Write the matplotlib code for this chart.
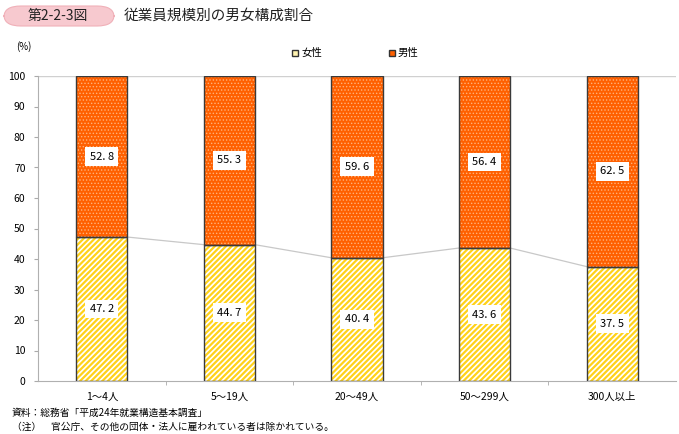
import numpy as np
import matplotlib.pyplot as plt
from matplotlib.patches import FancyBboxPatch, Rectangle

plt.rcParams['font.family'] = ['Noto Sans CJK JP', 'DejaVu Sans']

categories = ['1～4人', '5～19人', '20～49人', '50～299人', '300人以上']
female = [47.2, 44.7, 40.4, 43.6, 37.5]
male = [52.8, 55.3, 59.6, 56.4, 62.5]

fig = plt.figure(figsize=(6.79, 4.34), dpi=100)
ax = fig.add_axes([38 / 679, 1 - 381 / 434, 638 / 679, 305 / 434])

x = np.arange(len(categories))
w = 0.4

# female: yellow stripes, then dark outline
with plt.rc_context({'hatch.linewidth': 1.6}):
    ax.bar(x, female, w, color='white', edgecolor='#FFD21A', hatch='//////', linewidth=0, zorder=2)
ax.bar(x, female, w, fill=False, edgecolor='#3a3a3a', linewidth=1.0, zorder=3)
# male: orange with light dots
with plt.rc_context({'hatch.linewidth': 0.6}):
    ax.bar(x, male, w, bottom=female, color='#FF6000', edgecolor='#FFB27A', hatch='.....', linewidth=0, zorder=2)
ax.bar(x, male, w, bottom=female, fill=False, edgecolor='#3a3a3a', linewidth=1.0, zorder=3)

# connector lines between female tops
for i in range(len(x) - 1):
    ax.plot([x[i] + w / 2, x[i + 1] - w / 2], [female[i], female[i + 1]],
            color='#c8c8c8', linewidth=0.9, zorder=1)

box = dict(boxstyle='square,pad=0.4', facecolor='white', edgecolor='none')
for i in range(len(x)):
    ax.text(x[i], female[i] / 2, f'{female[i]:.1f}'.replace('.', '. '), ha='center', va='center',
            fontsize=8, bbox=box, zorder=4)
    ax.text(x[i], female[i] + male[i] / 2, f'{male[i]:.1f}'.replace('.', '. '), ha='center', va='center',
            fontsize=8, bbox=box, zorder=4)

ax.set_xlim(-0.5, len(x) - 0.5)
ax.set_ylim(0, 100)
ax.set_yticks(range(0, 101, 10))
ax.set_xticks(x)
ax.set_xticklabels(categories, fontsize=7.5)
ax.set_xticks(np.arange(0.5, len(x) - 0.5, 1), minor=True)
ax.tick_params(axis='y', labelsize=7.5, length=3, color='#aaaaaa', pad=6)
ax.tick_params(axis='x', which='major', length=0, pad=8)
ax.tick_params(axis='x', which='minor', length=3, color='#aaaaaa')
ax.axhline(100, color='#d0d0d0', linewidth=1.0, zorder=0)
for s in ['top', 'right']:
    ax.spines[s].set_visible(False)
for s in ['left', 'bottom']:
    ax.spines[s].set_color('#b0b0b0')

fig.text(16 / 679, 1 - 47 / 434, '(%)', fontsize=7, ha='left', va='center')

# legend
fig.patches.append(Rectangle((292 / 679, 1 - 56 / 434), 6 / 679, 6 / 434, transform=fig.transFigure,
                             facecolor='#FFF3B0', edgecolor='#333333', linewidth=1.0))
fig.text(301 / 679, 1 - 53 / 434, '女性', fontsize=7.5, va='center')
fig.patches.append(Rectangle((389 / 679, 1 - 56 / 434), 6 / 679, 6 / 434, transform=fig.transFigure,
                             facecolor='#FF6000', edgecolor='#333333', linewidth=1.0))
fig.text(398 / 679, 1 - 53 / 434, '男性', fontsize=7.5, va='center')

# title
fig.patches.append(FancyBboxPatch((4 / 679, 1 - 26 / 434), 110 / 679, 20 / 434, transform=fig.transFigure,
                                  boxstyle='round,pad=0,rounding_size=0.025', facecolor='#F7C9CF',
                                  edgecolor='#F0B0B8', linewidth=0.8))
fig.text(58 / 679, 1 - 16 / 434, '第2-2-3図', fontsize=10, ha='center', va='center', color='#222222')
fig.text(124 / 679, 1 - 16 / 434, '従業員規模別の男女構成割合', fontsize=10.5, ha='left', va='center', color='#222222')

# notes
fig.text(12 / 679, 1 - 413 / 434, '資料：総務省「平成24年就業構造基本調査」', fontsize=7, va='center')
fig.text(12 / 679, 1 - 427 / 434, '（注）　官公庁、その他の団体・法人に雇われている者は除かれている。', fontsize=7, va='center')

fig.savefig('out.png', dpi=100)
